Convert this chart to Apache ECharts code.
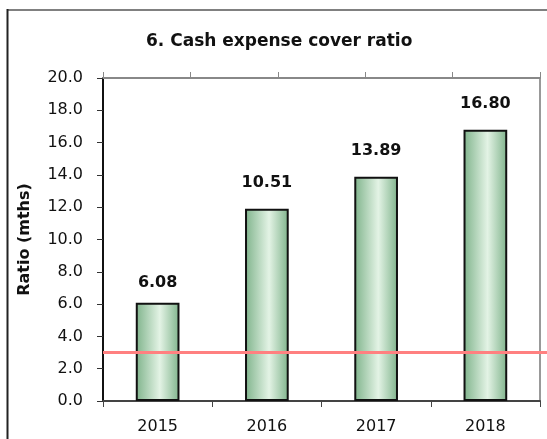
<!DOCTYPE html>
<html>
<head>
<meta charset="utf-8">
<script src="https://cdn.jsdelivr.net/npm/echarts@6/dist/echarts.min.js"></script>
<style>
  html, body { margin: 0; padding: 0; background: #fff; }
  #main { width: 547px; height: 439px; }
</style>
</head>
<body>
<div id="main"></div>
<script>
// data
var years = ['2015', '2016', '2017', '2018'];
var ratio = [6.08, 11.9, 13.89, 16.80];          // bar heights
var ratioLabels = ['6.08', '10.51', '13.89', '16.80']; // printed labels (2016 label differs from bar)
var targetLine = 3.0;

var font = 'DejaVu Sans';

var barFill = new echarts.graphic.LinearGradient(0, 0, 1, 0, [
  { offset: 0, color: '#7fb38b' },
  { offset: 0.55, color: '#e3f3e5' },
  { offset: 1, color: '#7fb38b' }
]);

var option = {
  animation: false,
  textStyle: { fontFamily: font },
  title: {
    text: '6. Cash expense cover ratio',
    left: 141,
    top: 28,
    textStyle: { fontFamily: font, fontSize: 17, fontWeight: 'bold', color: '#111' }
  },
  graphic: [
    { type: 'line', shape: { x1: 7, y1: 10, x2: 547, y2: 10 }, style: { stroke: '#808080', lineWidth: 2 } },
    { type: 'line', shape: { x1: 7.5, y1: 9, x2: 7.5, y2: 439 }, style: { stroke: '#222', lineWidth: 2 } }
  ],
  grid: [
    { left: 103, right: 7, top: 78, bottom: 38 },
    { left: 103, right: 0, top: 78, bottom: 38 }
  ],
  xAxis: [
    {
      type: 'category', gridIndex: 0, position: 'bottom',
      data: years,
      axisLine: { onZero: false, lineStyle: { color: '#444', width: 2 } },
      axisTick: { show: true, length: 6, lineStyle: { color: '#444', width: 1 } },
      axisLabel: { fontSize: 16, color: '#111', margin: 18, fontFamily: font }
    },
    {
      type: 'value', gridIndex: 0, position: 'top',
      min: 0, max: 5, interval: 1,
      axisLine: { show: true, onZero: false, lineStyle: { color: '#888', width: 2 } },
      axisTick: { show: true, length: 6, lineStyle: { color: '#888', width: 1 } },
      axisLabel: { show: false },
      splitLine: { show: false }
    },
    {
      type: 'category', gridIndex: 1, data: years, show: false
    }
  ],
  yAxis: [
    {
      type: 'value', gridIndex: 0, min: 0, max: 20, interval: 2,
      name: 'Ratio (mths)',
      nameLocation: 'middle',
      nameGap: 70,
      nameTextStyle: { fontFamily: font, fontSize: 16, fontWeight: 'bold', color: '#111' },
      axisLine: { show: true, onZero: false, lineStyle: { color: '#111', width: 2 } },
      axisTick: { show: true, length: 6, lineStyle: { color: '#333', width: 1 } },
      axisLabel: {
        fontSize: 16, color: '#111', margin: 20, fontFamily: font,
        formatter: function (v) { return v.toFixed(1); }
      },
      splitLine: { show: false }
    },
    {
      type: 'value', gridIndex: 0, position: 'right', min: 0, max: 20,
      axisLine: { show: true, onZero: false, lineStyle: { color: '#999', width: 2 } },
      axisTick: { show: false },
      axisLabel: { show: false },
      splitLine: { show: false }
    },
    {
      type: 'value', gridIndex: 1, min: 0, max: 20, show: false
    }
  ],
  series: [
    {
      type: 'bar',
      xAxisIndex: 0, yAxisIndex: 0,
      barWidth: '40%',
      data: ratio.map(function (v, i) {
        return { value: v, label: { distance: i === 0 ? 12 : 18 } };
      }),
      itemStyle: { color: barFill, borderColor: '#111', borderWidth: 2 },
      label: {
        show: true, position: 'top',
        fontFamily: font, fontSize: 16, fontWeight: 'bold', color: '#111',
        formatter: function (p) { return ratioLabels[p.dataIndex]; }
      },
      z: 2
    },
    {
      type: 'line',
      xAxisIndex: 1, yAxisIndex: 1,
      data: []
    },
    {
      type: 'line',
      xAxisIndex: 2, yAxisIndex: 2,
      data: [],
      markLine: {
        silent: true,
        symbol: 'none',
        label: { show: false },
        lineStyle: { color: '#ff8080', width: 3, type: 'solid' },
        data: [{ yAxis: targetLine }]
      },
      z: 3
    }
  ]
};

var chart = echarts.init(document.getElementById('main'));
chart.setOption(option);
</script>
</body>
</html>
